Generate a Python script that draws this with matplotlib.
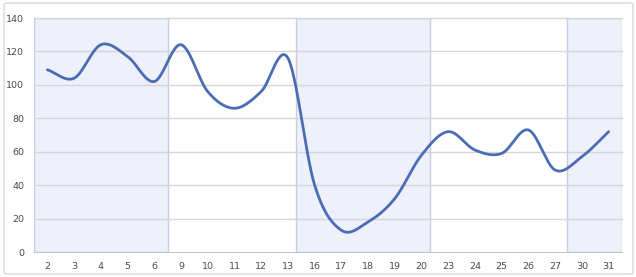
import numpy as np
import matplotlib.pyplot as plt
from matplotlib.patches import FancyBboxPatch

# ---- data ----
days = ["2", "3", "4", "5", "6", "9", "10", "11", "12", "13", "16", "17",
        "18", "19", "20", "23", "24", "25", "26", "27", "30", "31"]
values = [109, 104, 124, 117, 102, 124, 96, 86, 96, 116, 40, 13,
          18, 32, 58, 72, 61, 59, 73, 49, 57, 72]
yticks = [0, 20, 40, 60, 80, 100, 120, 140]
# shaded weeks, in category-index units
bands = [(-0.5, 4.5), (9.3, 14.3), (19.45, 21.5)]


def catmull_rom(x, y, n=30):
    # smooth curve through the points (Catmull-Rom spline)
    x = np.asarray(x, float)
    y = np.asarray(y, float)
    px = np.concatenate([[2 * x[0] - x[1]], x, [2 * x[-1] - x[-2]]])
    py = np.concatenate([[2 * y[0] - y[1]], y, [2 * y[-1] - y[-2]]])
    t = np.linspace(0, 1, n, endpoint=False)
    h00 = 2 * t**3 - 3 * t**2 + 1
    h10 = t**3 - 2 * t**2 + t
    h01 = -2 * t**3 + 3 * t**2
    h11 = t**3 - t**2
    xs, ys = [], []
    for i in range(1, len(px) - 2):
        for p, out in ((px, xs), (py, ys)):
            m1 = (p[i + 1] - p[i - 1]) / 2
            m2 = (p[i + 2] - p[i]) / 2
            out.append(h00 * p[i] + h10 * m1 + h01 * p[i + 1] + h11 * m2)
    xs.append([x[-1]])
    ys.append([y[-1]])
    return np.concatenate(xs), np.concatenate(ys)


fig = plt.figure(figsize=(6.36, 2.77), dpi=100)

# ---- outer frame ----
frame = FancyBboxPatch((4 / 636, 3 / 277), 629 / 636, 271 / 277,
                       boxstyle="round,pad=0,rounding_size=0.006",
                       transform=fig.transFigure, fill=False,
                       edgecolor="#d9d9d9", linewidth=1.0)
fig.patches.append(frame)

ax = fig.add_axes([34 / 636, 25 / 277, 588 / 636, 234 / 277])
x = np.arange(len(days))

for lo, hi in bands:
    ax.axvspan(lo, hi, facecolor="#eef0fb", edgecolor="#c9cddd",
               linewidth=1.0, zorder=1)

# ---- gridlines drawn over the bands ----
for yv in yticks[1:]:
    ax.axhline(yv, color="#d6d6d6", linewidth=1.0, zorder=2, clip_on=False)

sx, sy = catmull_rom(x, values)
ax.plot(sx, sy, color="#4a6db3", linewidth=2.0, zorder=3,
        solid_capstyle="round")

ax.set_xlim(-0.5, len(days) - 0.5)
ax.set_ylim(0, 140)
ax.set_yticks(yticks)
ax.set_xticks(x)
ax.set_xticklabels(days)

for s in ["top", "right", "left"]:
    ax.spines[s].set_visible(False)
ax.spines["bottom"].set_color("#c8c8c8")
ax.spines["bottom"].set_zorder(2.5)
ax.tick_params(length=0, labelsize=6.8, labelcolor="#4a4a4a")
ax.tick_params(axis="x", pad=7)
ax.tick_params(axis="y", pad=7)

fig.savefig("out.png", dpi=100)
